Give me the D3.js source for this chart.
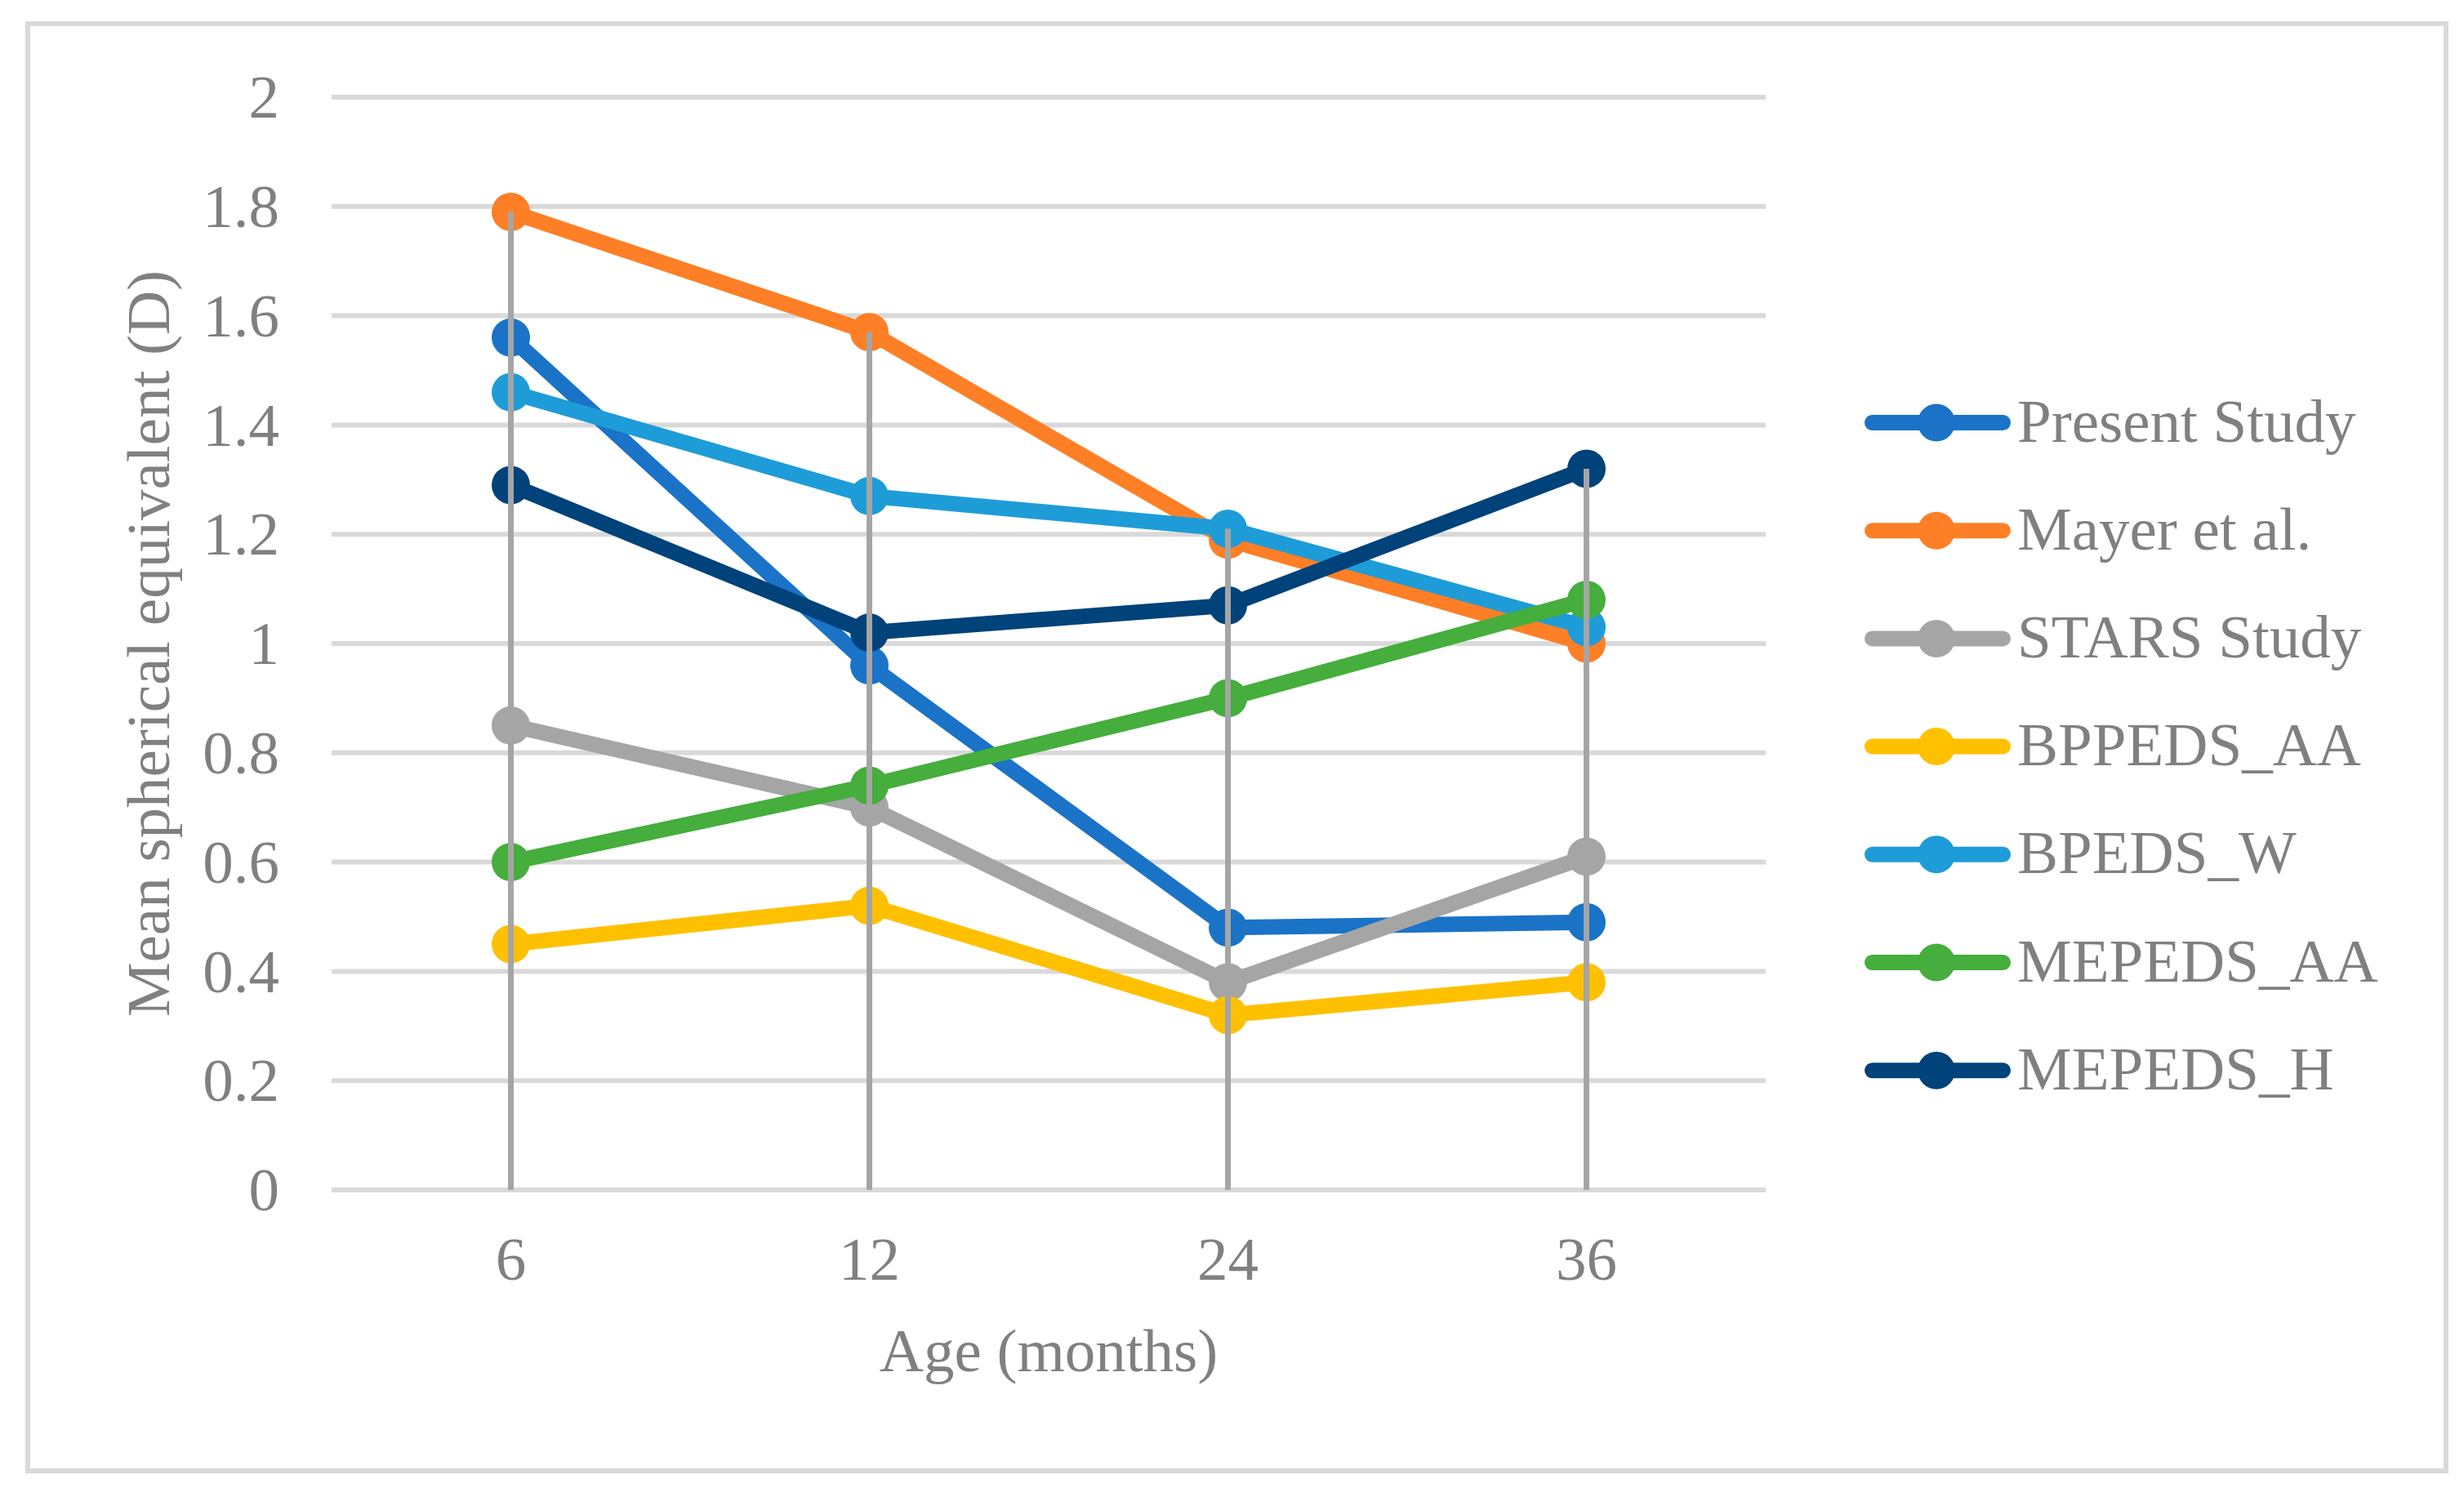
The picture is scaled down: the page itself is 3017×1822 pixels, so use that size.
<!DOCTYPE html>
<html>
<head>
<meta charset="utf-8">
<script src="https://cdn.jsdelivr.net/npm/d3@7"></script>
<style>
  html, body { margin: 0; padding: 0; background: #fff; }
  text { font-family: "Liberation Serif", "Times New Roman", serif; fill: #808080; }
</style>
</head>
<body>
<div id="chart"></div>
<script>
// ---- data ----
const ages = ["6", "12", "24", "36"];
const seriesNames = ["Present Study", "Mayer et al.", "STARS Study", "BPPEDS_AA", "BPEDS_W", "MEPEDS_AA", "MEPEDS_H"];
const seriesColors = ["#1a73c7", "#fe7f26", "#a5a5a5", "#ffc000", "#1e9cd8", "#45ae3c", "#00427a"];
const presentStudy = [1.56, 0.96, 0.48, 0.49];
const mayer = [1.79, 1.57, 1.19, 1.00];
const stars = [0.85, 0.70, 0.38, 0.61];
const bppedsAA = [0.45, 0.52, 0.32, 0.38];
const bpedsW = [1.46, 1.27, 1.21, 1.03];
const mepedsAA = [0.60, 0.74, 0.90, 1.08];
const mepedsH = [1.29, 1.02, 1.07, 1.32];
const seriesValues = [presentStudy, mayer, stars, bppedsAA, bpedsW, mepedsAA, mepedsH];
const yTicks = [0, 0.2, 0.4, 0.6, 0.8, 1, 1.2, 1.4, 1.6, 1.8, 2];
const yTickLabels = ["0", "0.2", "0.4", "0.6", "0.8", "1", "1.2", "1.4", "1.6", "1.8", "2"];

const W = 3017, H = 1822;
const margin = { top: 119, right: 855, bottom: 365, left: 406 };
const width = W - margin.left - margin.right;
const height = H - margin.top - margin.bottom;

const svg = d3.select("#chart").append("svg")
    .attr("width", W)
    .attr("height", H);

svg.append("rect").attr("width", W).attr("height", H).attr("fill", "#fff");

// outer chart border
svg.append("rect")
    .attr("x", 34).attr("y", 29)
    .attr("width", 2995 - 34).attr("height", 1801 - 29)
    .attr("fill", "none")
    .attr("stroke", "#d9d9d9")
    .attr("stroke-width", 6);

const g = svg.append("g").attr("transform", "translate(" + margin.left + "," + margin.top + ")");

const x = d3.scaleBand().domain(ages).range([0, width]);
const y = d3.scaleLinear().domain([0, 2]).range([height, 0]);
const cx = d => x(d) + x.bandwidth() / 2;

// gridlines
g.append("g")
    .selectAll("line")
    .data(yTicks)
    .join("line")
    .attr("x1", 0).attr("x2", width)
    .attr("y1", d => y(d)).attr("y2", d => y(d))
    .attr("stroke", "#d9d9d9")
    .attr("stroke-width", 6);

// y axis labels
const yAxis = g.append("g")
    .call(d3.axisLeft(y).tickValues(yTicks).tickSize(0).tickPadding(64)
        .tickFormat((d, i) => yTickLabels[i]));
yAxis.select(".domain").remove();
yAxis.selectAll("text")
    .attr("font-size", 75)
    .attr("font-family", "Liberation Serif")
    .attr("fill", "#808080")
    .attr("dy", "0.33em");

// x axis labels
const xAxis = g.append("g")
    .attr("transform", "translate(0," + height + ")")
    .call(d3.axisBottom(x).tickSize(0).tickPadding(0));
xAxis.select(".domain").remove();
xAxis.selectAll("text")
    .attr("font-size", 75)
    .attr("font-family", "Liberation Serif")
    .attr("fill", "#808080")
    .attr("dy", null)
    .attr("y", 110);

// axis titles
svg.append("text")
    .attr("x", margin.left + width / 2)
    .attr("y", 1679)
    .attr("text-anchor", "middle")
    .attr("font-size", 75)
    .text("Age (months)");

svg.append("text")
    .attr("transform", "translate(207," + (margin.top + height / 2) + ") rotate(-90)")
    .attr("text-anchor", "middle")
    .attr("font-size", 75)
    .text("Mean spherical equivalent (D)");

// series
const line = d3.line()
    .x((d, i) => cx(ages[i]))
    .y(d => y(d));

seriesValues.forEach((vals, s) => {
    g.append("path")
        .datum(vals)
        .attr("d", line)
        .attr("fill", "none")
        .attr("stroke", seriesColors[s])
        .attr("stroke-width", 19)
        .attr("stroke-linejoin", "round")
        .attr("stroke-linecap", "round");
    g.append("g")
        .selectAll("circle")
        .data(vals)
        .join("circle")
        .attr("cx", (d, i) => cx(ages[i]))
        .attr("cy", d => y(d))
        .attr("r", 23.5)
        .attr("fill", seriesColors[s]);
});

// drop lines from the highest point at each age down to the axis
g.append("g")
    .selectAll("line")
    .data(ages)
    .join("line")
    .attr("x1", d => cx(d)).attr("x2", d => cx(d))
    .attr("y1", (d, i) => y(d3.max(seriesValues, v => v[i])))
    .attr("y2", y(0))
    .attr("stroke", "#a5a5a5")
    .attr("stroke-width", 7);

// legend
const legend = svg.append("g").attr("transform", "translate(2283,517.5)");
const rowH = 132.2;
seriesNames.forEach((name, s) => {
    const row = legend.append("g").attr("transform", "translate(0," + (s * rowH) + ")");
    row.append("line")
        .attr("x1", 9.5).attr("x2", 169.5)
        .attr("stroke", seriesColors[s])
        .attr("stroke-width", 19)
        .attr("stroke-linecap", "round");
    row.append("circle")
        .attr("cx", 88).attr("r", 23)
        .attr("fill", seriesColors[s]);
    row.append("text")
        .attr("x", 187).attr("y", 23)
        .attr("font-size", 75)
        .text(name);
});
</script>
</body>
</html>
